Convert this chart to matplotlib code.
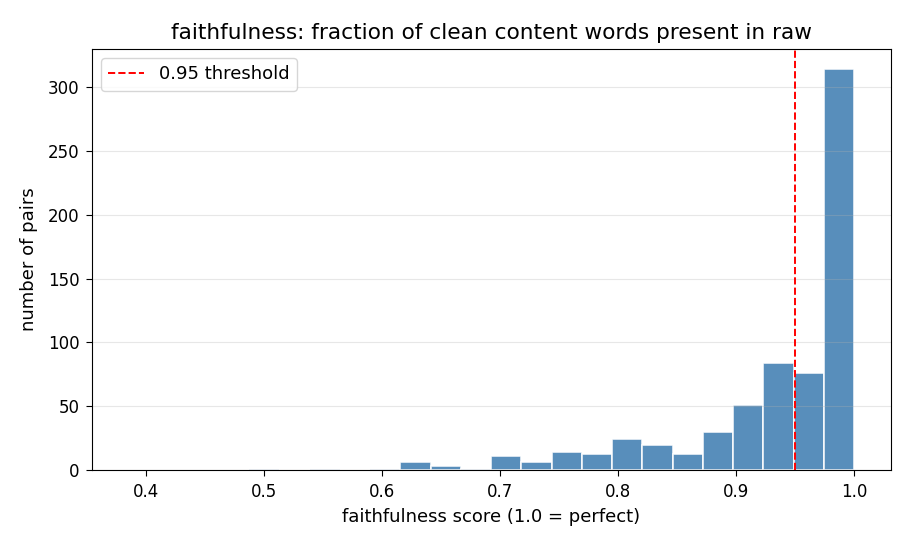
import numpy as np
import matplotlib
matplotlib.use("Agg")
from matplotlib import pyplot as plt

# histogram of faithfulness scores (24 bins, min score -> 1.0)
bin_lo = 0.385
bin_hi = 1.0
n_bins = 24
counts = [0, 0, 0, 0, 1, 0, 1, 0, 1, 6, 3, 1,
          11, 6, 14, 13, 24, 20, 13, 30, 51, 84, 76, 314]
threshold = 0.95

edges = np.linspace(bin_lo, bin_hi, n_bins + 1)
centers = (edges[:-1] + edges[1:]) / 2

fig = plt.figure(figsize=(9.1, 5.46), dpi=100)
ax = fig.add_axes([0.101, 0.139, 0.878, 0.771])

ax.hist(centers, bins=edges, weights=counts, color="steelblue",
        alpha=0.9, edgecolor="white", linewidth=1.2)
ax.axvline(threshold, color="red", linestyle="--", linewidth=1.4,
           label=f"{threshold} threshold")

ax.set_xlim(0.3545, 1.031)
ax.set_title("faithfulness: fraction of clean content words present in raw",
             fontsize=15.6, pad=7)
ax.set_xlabel("faithfulness score (1.0 = perfect)", fontsize=13, labelpad=5)
ax.set_ylabel("number of pairs", fontsize=13, labelpad=7)
ax.tick_params(labelsize=12, length=4.2, pad=4.8)
ax.grid(axis="y", alpha=0.3)
ax.legend(loc="upper left", fontsize=13)

fig.savefig("out.png", dpi=100)
